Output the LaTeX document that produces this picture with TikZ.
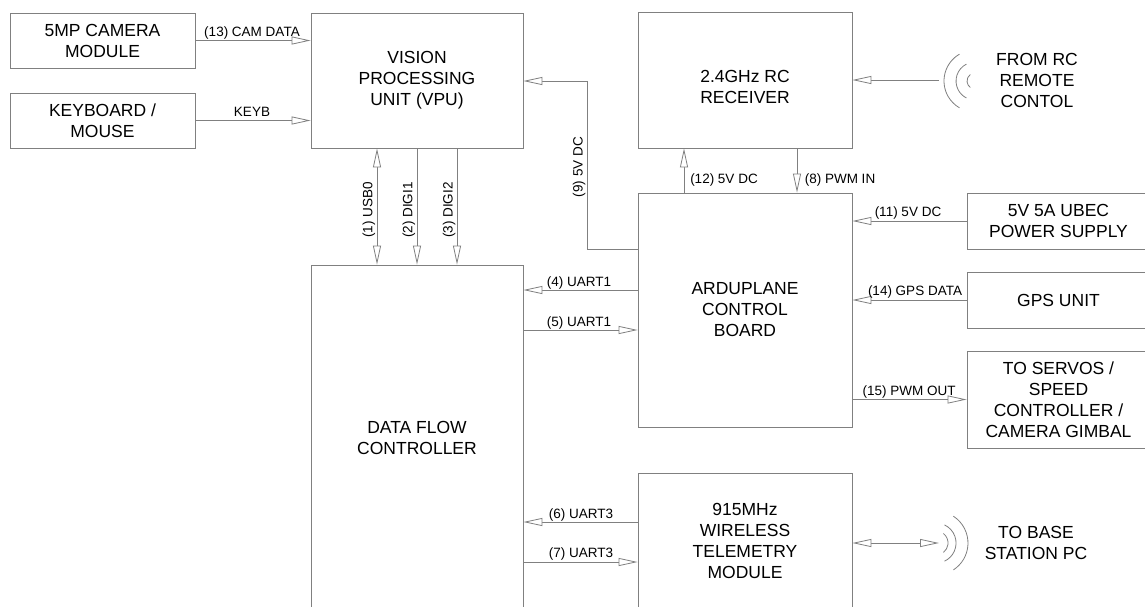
\documentclass[tikz,border=0pt]{standalone}
\usepackage{fontspec}
\setmainfont{Liberation Sans}
\usetikzlibrary{arrows.meta}
\definecolor{ln}{RGB}{128,128,128}
\begin{document}
\begin{tikzpicture}[x=1pt,y=-1pt,
  box/.style={draw=ln, line width=0.8pt, inner sep=0pt, align=center,
    font=\fontsize{17.5}{21}\selectfont},
  plain/.style={inner sep=0pt, align=center, font=\fontsize{17.5}{21}\selectfont},
  lbl/.style={inner sep=0pt, font=\fontsize{13.5}{16}\selectfont},
  wire/.style={draw=ln, line width=0.8pt},
  tip/.style={-{Triangle[length=19pt,width=8pt,fill=white]}},
  tips/.style={{Triangle[length=19pt,width=8pt,fill=white]}-{Triangle[length=19pt,width=8pt,fill=white]}},
]
\useasboundingbox (0,0) rectangle (1145,606);
\fill[white] (0,0) rectangle (1145,606);

% boxes
\node[box, minimum width=185pt, minimum height=55pt] (cam) at (102.5,40.5) {5MP CAMERA\\MODULE};
\node[box, minimum width=185pt, minimum height=55pt] (kbd) at (102.5,120.5) {KEYBOARD /\\MOUSE};
\node[box, minimum width=212pt, minimum height=135pt] (vpu) at (417,80.5) {VISION\\PROCESSING\\UNIT (VPU)};
\node[box, minimum width=214pt, minimum height=136pt] (rc) at (745,80) {};
\node[plain] (rctext) at (745,86.5) {2.4GHz RC\\RECEIVER};
\node[box, minimum width=214pt, minimum height=234pt] (acb) at (745,310) {ARDUPLANE\\CONTROL\\BOARD};
\node[box, minimum width=212pt, minimum height=345pt] (dfc) at (417,437.5) {DATA FLOW\\CONTROLLER};
\node[box, minimum width=214pt, minimum height=136pt] (tel) at (745,541) {915MHz\\WIRELESS\\TELEMETRY\\MODULE};
\node[box, minimum width=183pt, minimum height=56pt] (ubec) at (1058.5,221) {5V 5A UBEC\\POWER SUPPLY};
\node[box, minimum width=183pt, minimum height=56pt] (gps) at (1058.5,300) {GPS UNIT};
\node[box, minimum width=183pt, minimum height=97pt] (srv) at (1058.5,399.5) {TO SERVOS /\\SPEED\\CONTROLLER /\\CAMERA GIMBAL};
\node[plain] (rcrem) at (1037,80) {FROM RC\\REMOTE\\CONTOL};
\node[plain] (base) at (1036,543) {TO BASE\\STATION PC};

% helper coordinates
\coordinate (x377) at (377,0);
\coordinate (x457) at (457,0);
\coordinate (x684) at (684,0);
\coordinate (x797) at (797,0);
\coordinate (y81) at (0,81);
\coordinate (y249) at (0,249);
\coordinate (y290) at (0,290);
\coordinate (y330) at (0,330);
\coordinate (y522) at (0,522);
\coordinate (y562) at (0,562);
\coordinate (y543) at (0,543);
\coordinate (k9) at (587,249);
\coordinate (ant1) at (939,80);
\coordinate (ant2) at (939,543);

% connectors
\draw[wire,tip] (cam.east) -- (cam.east -| vpu.west);
\draw[wire,tip] (kbd.east) -- (kbd.east -| vpu.west);
\draw[wire,tips] (vpu.south -| x377) -- (dfc.north -| x377);
\draw[wire,tip] (vpu.south) -- (dfc.north);
\draw[wire,tip] (vpu.south -| x457) -- (dfc.north -| x457);
\draw[wire,tip] (acb.west |- y249) -- (k9) |- (vpu.east |- y81);
\draw[wire,tip] (acb.north -| x684) -- (rc.south -| x684);
\draw[wire,tip] (rc.south -| x797) -- (acb.north -| x797);
\draw[wire,tip] (ant1) -- (rc.east);
\draw[wire,tip] (ubec.west) -- (ubec.west -| acb.east);
\draw[wire,tip] (gps.west) -- (gps.west -| acb.east);
\draw[wire,tip] (srv.west -| acb.east) -- (srv.west);
\draw[wire,tip] (acb.west |- y290) -- (dfc.east |- y290);
\draw[wire,tip] (dfc.east |- y330) -- (acb.west |- y330);
\draw[wire,tip] (tel.west |- y522) -- (dfc.east |- y522);
\draw[wire,tip] (dfc.east |- y562) -- (tel.west |- y562);
\draw[wire,tips] (tel.east |- y543) -- (ant2);

% antennas
\draw[wire] (959.5,54.15) arc[start angle=120, end angle=240, radius=31pt];
\draw[wire] (966.4,64.1) arc[start angle=117, end angle=243, radius=19pt];
\draw[wire] (970.3,74.5) arc[start angle=126, end angle=234, radius=8pt];
\draw[wire] (943.4,533.5) arc[start angle=52, end angle=-52, radius=12pt];
\draw[wire] (944.5,524.9) arc[start angle=65, end angle=-65, radius=20pt];
\draw[wire] (953.4,516.2) arc[start angle=57, end angle=-57, radius=32pt];

% labels
\node[lbl] (l13) at (252,33) {(13) CAM DATA};
\node[lbl] (lkb) at (252,112) {KEYB};
\node[lbl, rotate=90] (l1) at (369,210) {(1) USB0};
\node[lbl, rotate=90] (l2) at (409,210) {(2) DIGI1};
\node[lbl, rotate=90] (l3) at (449,210) {(3) DIGI2};
\node[lbl, rotate=90] (l9) at (579,167) {(9) 5V DC};
\node[lbl] (l12) at (724,180) {(12) 5V DC};
\node[lbl] (l8) at (840,180) {(8) PWM IN};
\node[lbl] (l11) at (908,213) {(11) 5V DC};
\node[lbl] (l14) at (915,292) {(14) GPS DATA};
\node[lbl] (l15) at (909,392) {(15) PWM OUT};
\node[lbl] (l4) at (579,283) {(4) UART1};
\node[lbl] (l5) at (579,323) {(5) UART1};
\node[lbl] (l6) at (581,515) {(6) UART3};
\node[lbl] (l7) at (581,554) {(7) UART3};
\end{tikzpicture}
\end{document}
